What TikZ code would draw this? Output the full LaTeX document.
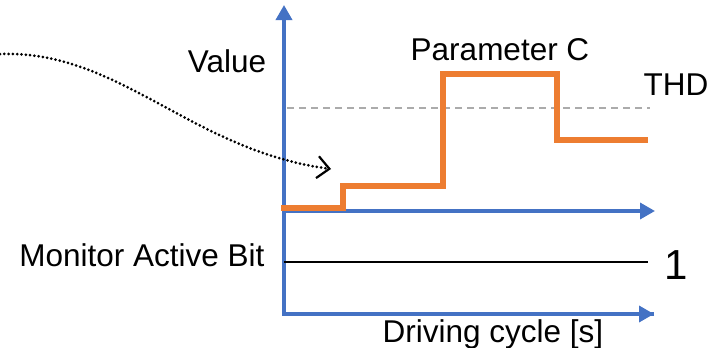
\documentclass[tikz,border=0pt]{standalone}
\usepackage{fontspec}
\setmainfont{Liberation Sans}
\usetikzlibrary{arrows.meta}
\definecolor{axisblue}{HTML}{4472C4}
\definecolor{paramorange}{HTML}{ED7D31}
\definecolor{thdgray}{HTML}{ABABAB}
\tikzset{
  axis/.style={draw=axisblue, line width=3.5pt, -{Triangle[length=15pt,width=16pt]}},
  signal/.style={draw=paramorange, line width=6.5pt, line join=miter},
  thdline/.style={draw=thdgray, line width=1.5pt, dash pattern=on 7pt off 5pt},
  bitline/.style={draw=black, line width=2pt},
  pointer/.style={draw=black, line width=3pt, line cap=round, dash pattern=on 0pt off 4.3pt, -{Straight Barb[length=12pt,width=22pt,line width=2.2pt]}},
  lbl/.style={font=\fontsize{31.5}{31.5}\selectfont, inner sep=0pt, anchor=base},
}
\begin{document}
\begin{tikzpicture}[x=1pt,y=-1pt]
\useasboundingbox (0,0) rectangle (716,348);
% coordinates
\coordinate (O) at (284,314);
\coordinate (Ytop) at (284,5);
\coordinate (Xend) at (654,314);
\coordinate (U0) at (284,211);
\coordinate (Uend) at (655,211);
\coordinate (B0) at (284,262);
\coordinate (Bend) at (648,262);
\coordinate (T0) at (287,108);
\coordinate (Tend) at (650,108);
\coordinate (S0) at (281,208);
\coordinate (S1) at (343,208);
\coordinate (S2) at (343,186);
\coordinate (S3) at (443,186);
\coordinate (S4) at (443,74);
\coordinate (S5) at (557,74);
\coordinate (S6) at (557,140);
\coordinate (S7) at (648,140);
\coordinate (P0) at (0,54);
\coordinate (P1) at (331,169);
% threshold
\draw[thdline] (T0) -- (Tend);
% axes
\draw[axis] (U0) -- (Uend);
\draw[axis] (Xend) -- (O) -- (Ytop);
\draw[axis] (O) -- (Xend);
% monitor bit line
\draw[bitline] (B0) -- (Bend);
% parameter signal
\draw[signal] (S0) -- (S1) -- (S2) -- (S3) -- (S4) -- (S5) -- (S6) -- (S7);
% pointer curve
\draw[pointer] (P0) .. controls (120,50) and (190,150) .. (P1);
% labels
\node[lbl] (value) at (227,72) {Value};
\node[lbl] (param) at (500,60) {Parameter C};
\node[lbl] (thd) at (676,95) {THD};
\node[lbl] (mab) at (142,266) {Monitor Active Bit};
\node[lbl, font=\fontsize{42}{42}\selectfont] (one) at (676,279) {1};
\node[lbl] (drive) at (493,342) {Driving cycle [s]};
\end{tikzpicture}
\end{document}
